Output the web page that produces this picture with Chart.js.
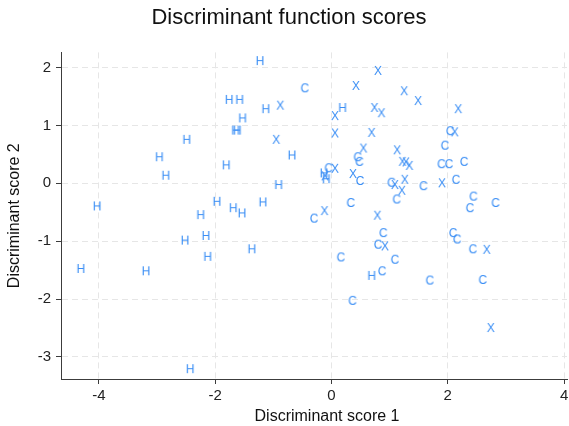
<!DOCTYPE html>
<html>
<head>
<meta charset="utf-8">
<script src="https://cdn.jsdelivr.net/npm/chart.js@4.4.1/dist/chart.umd.min.js"></script>
<style>
    body { margin: 0; background: #ffffff; }
    #grafico { width: 569px; height: 426px; }
</style>
</head>
<body>
<div id="grafico"><canvas id="myChart1" width="569" height="426"></canvas></div>
<script>
// scores (grupo H)
const hX = [-1.23, -1.76, -1.58, -1.13, -1.53, -1.65, -1.62, -2.49, -0.68, -2.96,
    -1.81, -2.85, -0.91, -4.03, -1.97, -1.69, -1.54, -1.18, -2.25, -2.52,
    -2.16, -2.13, -1.37, -4.31, -3.19, -2.43, 0.19, -0.13, -0.09, 0.69];
const hY = [2.11, 1.44, 1.44, 1.28, 1.12, 0.91, 0.91, 0.75, 0.48, 0.45,
    0.31, 0.13, -0.03, -0.40, -0.32, -0.43, -0.52, -0.33, -0.55, -0.99,
    -0.91, -1.27, -1.14, -1.48, -1.52, -3.21, 1.30, 0.17, 0.07, -1.60];

// grupo C
const cX = [-0.46, 0.45, 0.48, -0.05, 0.49, 0.33, -0.30, 1.03, 1.12, 1.58,
    2.04, 1.95, 1.89, 2.02, 2.28, 2.14, 2.44, 2.38, 2.82, 0.89,
    0.80, 0.16, 0.87, 0.36, 1.09, 2.09, 2.16, 2.43, 1.69, 2.60];
const cY = [1.64, 0.45, 0.37, 0.26, 0.04, -0.34, -0.61, 0.01, -0.28, -0.05,
    0.90, 0.65, 0.33, 0.33, 0.37, 0.06, -0.23, -0.43, -0.34, -0.86,
    -1.06, -1.28, -1.52, -2.03, -1.32, -0.86, -0.97, -1.14, -1.68, -1.67];

// grupo X
const xX = [0.80, 0.42, 0.06, 0.74, 0.86, 0.06, 0.69, 0.55, 0.06, -0.11,
    0.37, -0.88, -0.95, -0.12, 0.79, 1.25, 1.49, 2.18, 2.12, 1.13,
    1.22, 1.28, 1.34, 1.09, 1.26, 1.21, 1.90, 0.92, 2.67, 2.74];
const xY = [1.94, 1.68, 1.16, 1.30, 1.21, 0.86, 0.87, 0.60, 0.25, 0.12,
    0.16, 1.34, 0.75, -0.48, -0.56, 1.59, 1.42, 1.28, 0.88, 0.57,
    0.37, 0.36, 0.30, -0.03, 0.06, -0.13, 0.00, -1.09, -1.15, -2.50];

const ticksX = [-4, -2, 0, 2, 4];
const ticksY = [-3, -2, -1, 0, 1, 2];

const corLetra = '#3a8ef5';
const fonte = '"Liberation Sans", Arial, sans-serif';

function letra(ch) {
    const c = document.createElement('canvas');
    c.width = 16;
    c.height = 16;
    const g = c.getContext('2d');
    g.fillStyle = corLetra;
    g.font = '12px ' + fonte;
    g.textAlign = 'center';
    g.textBaseline = 'middle';
    g.fillText(ch, 8, 8.5);
    return c;
}

function pontos(xs, ys) {
    return xs.map((v, i) => ({ x: v, y: ys[i] }));
}

function grupo(nome, xs, ys) {
    return {
        label: nome,
        data: pontos(xs, ys),
        pointStyle: letra(nome),
        pointRadius: 8,
        showLine: false
    };
}

// desloca o titulo principal um pouco para a direita, como no original
const ajusteTitulo = {
    id: 'ajusteTitulo',
    afterLayout(chart) {
        chart.titleBlock.left += 5.5;
        chart.titleBlock.right += 5.5;
    }
};

// titulo do eixo x fica um pouco a direita do centro no original
const tituloEixoX = {
    id: 'tituloEixoX',
    afterDraw(chart) {
        const c = chart.ctx;
        c.save();
        c.fillStyle = '#111111';
        c.font = '16px ' + fonte;
        c.textAlign = 'center';
        c.textBaseline = 'middle';
        c.fillText('Discriminant score 1', 327, 417);
        c.restore();
    }
};

const eixoComum = {
    border: { display: true, color: '#3c3c3c', width: 1, dash: [6, 4] },
    grid: { color: '#e6e6e6', lineWidth: 1, tickLength: 5, tickColor: '#3c3c3c', tickBorderDash: [] },
    ticks: { color: '#222222', font: { family: fonte, size: 15 } }
};

const ctx1 = document.getElementById('myChart1');

new Chart(ctx1, {
    type: 'scatter',
    data: {
        datasets: [
            grupo('H', hX, hY),
            grupo('C', cX, cY),
            grupo('X', xX, xY)
        ]
    },
    options: {
        responsive: false,
        animation: false,
        layout: { autoPadding: false, padding: { left: 0, right: 2, top: 0, bottom: 0 } },
        plugins: {
            legend: { display: false },
            tooltip: { enabled: false },
            title: {
                display: true,
                text: 'Discriminant function scores',
                color: '#111111',
                font: { family: fonte, size: 22, weight: 'normal' },
                padding: { top: 5, bottom: 21 }
            }
        },
        scales: {
            x: {
                type: 'linear',
                min: -4.65,
                max: 4.05,
                border: eixoComum.border,
                grid: eixoComum.grid,
                ticks: { ...eixoComum.ticks, padding: 3, maxRotation: 0 },
                afterBuildTicks: (s) => { s.ticks = ticksX.map(v => ({ value: v })); },
                afterFit: (s) => { s.height = 47; s.paddingLeft = 0; s.paddingRight = 0; }
            },
            y: {
                type: 'linear',
                min: -3.38,
                max: 2.26,
                border: eixoComum.border,
                grid: eixoComum.grid,
                ticks: { ...eixoComum.ticks, padding: 5 },
                afterBuildTicks: (s) => { s.ticks = ticksY.map(v => ({ value: v })); },
                afterFit: (s) => { s.width = 61; s.paddingTop = 0; s.paddingBottom = 0; },
                title: {
                    display: true,
                    text: 'Discriminant score 2',
                    color: '#111111',
                    font: { family: fonte, size: 16 },
                    padding: { top: 5, bottom: 0 }
                }
            }
        }
    },
    plugins: [ajusteTitulo, tituloEixoX]
});
</script>
</body>
</html>
